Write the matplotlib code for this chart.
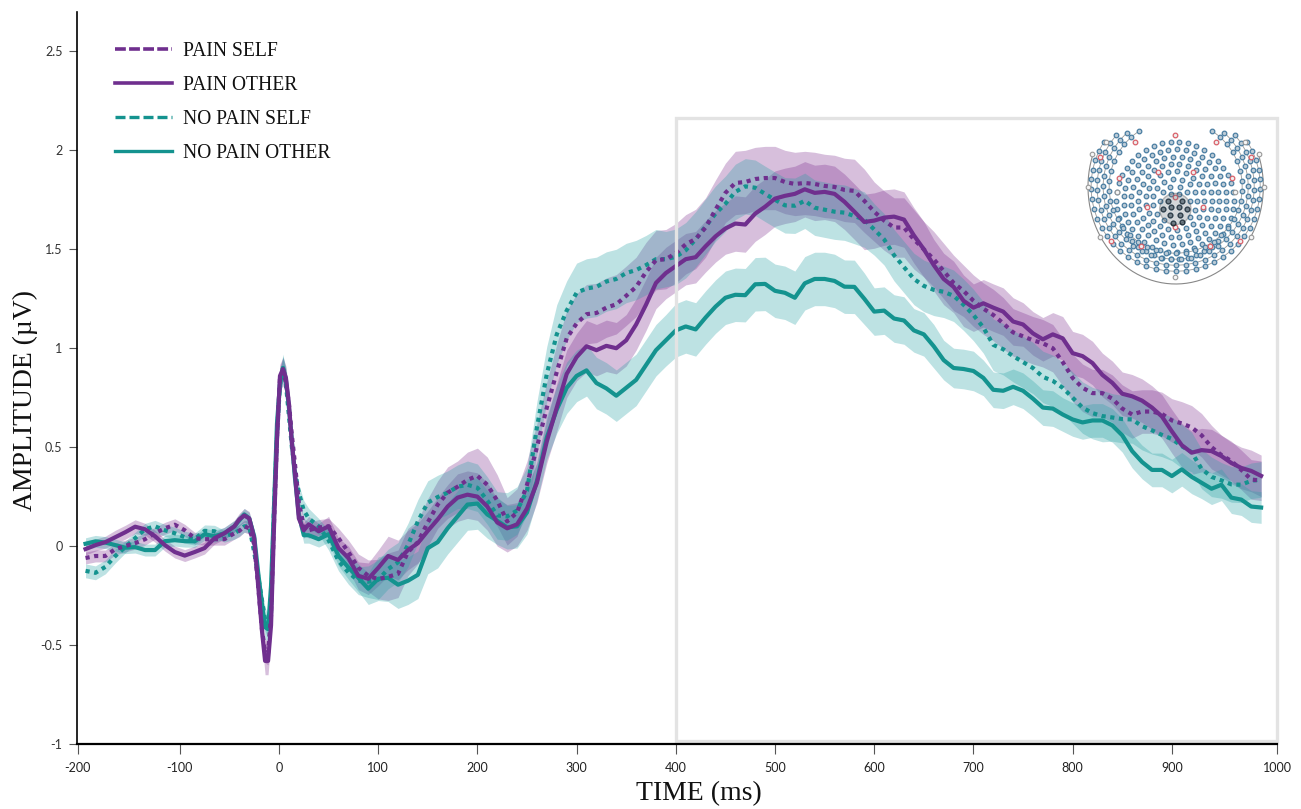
import numpy as np
import matplotlib
matplotlib.use("Agg")
import matplotlib.pyplot as plt
from matplotlib.lines import Line2D
from matplotlib.patches import Rectangle, Ellipse

TIME = [-195, -185, -175, -165, -155, -145, -135, -125, -115, -105, -95, -85, -75, -65, -55, -45,
        -40, -35, -30, -25, -21, -17, -14, -11, -8, -5, -2, 1, 4, 7, 10, 13, 16, 20, 25] + list(range(30, 1000, 10))

PAIN_OTHER = [-.015, .005, .02, .045, .07, .098, .085, .05, .005, -.03, -.048, -.03, -.01, .04, .065, .10,
    .135, .155, .14, .04, -.2, -.436, -.58, -.58, -.4, .1, .54, .86, .895, .85, .72, .52, .37, .14, .08,
    .11, .075, .10, -.01, -.06, -.15, -.165, -.11, -.05, -.07, -.02, .015, .077, .135, .20, .245, .26, .25, .20, .12, .09, .11, .19, .32, .53, .70, .87,
    .955, 1.01, .99, 1.012, 1.0, 1.04, 1.12, 1.22, 1.33, 1.38, 1.415, 1.45, 1.46, 1.515, 1.565, 1.605, 1.63, 1.625, 1.68, 1.715,
    1.756, 1.77, 1.78, 1.803, 1.785, 1.79, 1.78, 1.74, 1.69, 1.638, 1.645, 1.66, 1.665, 1.65, 1.57, 1.50, 1.42, 1.35, 1.31, 1.24,
    1.205, 1.227, 1.205, 1.185, 1.135, 1.12, 1.075, 1.045, 1.07, 1.05, .975, .96, .925, .865, .825, .77, .757, .735, .70, .655,
    .58, .51, .472, .485, .48, .455, .42, .395, .38, .355]

PAIN_SELF = [-.06, -.05, -.05, -.015, 0, .015, .035, .065, .09, .108, .08, .04, .035, .035, .035, .065,
    .077, .10, .09, .01, -.2, -.43, -.53, -.54, -.35, .12, .55, .85, .88, .83, .72, .56, .42, .22, .10,
    .08, .094, .10, .04, -.03, -.11, -.15, -.167, -.155, -.14, -.03, .02, .12, .21, .27, .30, .335, .355, .31, .23, .125, .17, .31, .50, .70, .88, 1.05,
    1.125, 1.172, 1.178, 1.205, 1.222, 1.265, 1.31, 1.385, 1.445, 1.45, 1.48, 1.525, 1.552, 1.61, 1.70, 1.785, 1.835, 1.84, 1.855, 1.86,
    1.86, 1.84, 1.83, 1.835, 1.83, 1.82, 1.815, 1.80, 1.795, 1.745, 1.69, 1.645, 1.61, 1.61, 1.55, 1.50, 1.45, 1.39, 1.33, 1.29,
    1.24, 1.20, 1.168, 1.126, 1.08, 1.06, 1.04, 1.025, 1.0, .93, .85, .80, .773, .773, .745, .695, .665, .68, .68, .668,
    .635, .62, .60, .56, .50, .46, .43, .385, .337, .33]

NOPAIN_OTHER = [.012, .024, .018, .005, -.008, -.005, -.02, -.02, .025, .03, .025, .024, .06, .05, .065, .10,
    .13, .16, .14, .05, -.133, -.30, -.41, -.42, -.20, .2, .62, .82, .90, .84, .70, .53, .35, .16, .055,
    .055, .035, .06, -.05, -.108, -.16, -.215, -.165, -.16, -.195, -.175, -.145, -.01, .02, .09, .15, .21, .215, .16, .128, .095, .10, .17, .33, .55, .69, .80,
    .86, .888, .824, .797, .76, .80, .84, .915, .99, 1.04, 1.09, 1.11, 1.095, 1.155, 1.21, 1.255, 1.27, 1.268, 1.323, 1.325,
    1.29, 1.28, 1.255, 1.328, 1.35, 1.35, 1.34, 1.311, 1.31, 1.25, 1.185, 1.19, 1.15, 1.14, 1.09, 1.07, 1.01, .94, .90, .895,
    .885, .85, .79, .785, .805, .785, .745, .70, .695, .665, .64, .625, .635, .635, .61, .56, .48, .425, .385, .385,
    .354, .388, .35, .32, .29, .31, .245, .235, .20, .195]

NOPAIN_SELF = [-.125, -.135, -.105, -.05, -.005, .04, .085, .10, .08, .065, .045, .035, .077, .075, .05, .065,
    .08, .10, .10, -.03, -.15, -.28, -.37, -.41, -.335, .2, .55, .82, .90, .82, .66, .50, .38, .27, .18,
    .14, .10, .03, -.075, -.133, -.175, -.18, -.17, -.116, -.082, .005, .125, .22, .248, .27, .30, .31, .295, .23, .155, .15, .18, .28, .60, .87, 1.07, 1.19,
    1.28, 1.302, 1.31, 1.337, 1.35, 1.38, 1.395, 1.42, 1.45, 1.45, 1.462, 1.495, 1.55, 1.615, 1.68, 1.73, 1.79, 1.818, 1.811, 1.78,
    1.75, 1.722, 1.72, 1.745, 1.71, 1.70, 1.69, 1.685, 1.668, 1.65, 1.60, 1.55, 1.47, 1.41, 1.35, 1.315, 1.295, 1.285, 1.265, 1.22,
    1.168, 1.105, 1.017, .995, .96, .93, .90, .855, .835, .80, .75, .70, .672, .657, .65, .642, .64, .606, .585, .562,
    .542, .505, .475, .39, .35, .332, .312, .31, .33, .337]

# half widths of the shaded bands
HW_PO = [.03, .03, .03, .035, .035, .035, .03, .03, .03, .03, .03, .03, .03, .03, .03, .03,
    .03, .035, .035, .04, .04, .05, .07, .07, .06, .05, .05, .06, .06, .06, .05, .05, .04, .04, .04,
    .04, .04, .05, .05, .06, .07, .08, .09, .10, .10, .10, .10, .10, .11, .11, .12, .12, .12, .12, .12, .12, .11, .11,
    .10, .11, .12, .12, .12, .13, .13, .13, .13, .13, .13, .13, .13, .13,
    .13, .13, .13, .13, .13, .13, .14, .14, .14, .14, .14, .14, .14, .14, .14, .14, .14, .14, .14, .14,
    .14, .14, .14, .14, .14, .14, .13, .13, .13, .13, .12, .12, .12, .12, .12, .11, .11, .11, .11, .11,
    .11, .11, .11, .11, .11, .11, .11, .11, .11, .11, .11, .11, .11, .11, .11, .105, .105, .105, .105, .105]
HW_PS = [.03, .03, .03, .03, .03, .03, .03, .03, .03, .03, .03, .03, .03, .03, .03, .03,
    .03, .03, .03, .035, .04, .05, .06, .06, .05, .05, .05, .06, .07, .06, .05, .05, .04, .04, .04,
    .04, .04, .04, .05, .06, .07, .08, .10, .12, .12, .12, .11, .12, .12, .13, .13, .14, .14, .14, .13, .12, .12, .12,
    .12, .13, .14, .14, .15, .15, .15, .15, .15, .15, .15, .15, .15, .15,
    .15, .15, .15, .15, .15, .15, .16, .16, .16, .16, .16, .16, .16, .16, .16, .16, .16, .16, .16, .16,
    .15, .15, .15, .15, .15, .14, .14, .14, .14, .13, .13, .13, .13, .13, .12, .12, .12, .12, .12, .12,
    .12, .12, .12, .12, .12, .12, .12, .11, .11, .11, .11, .11, .11, .11, .11, .10, .10, .10, .10, .10]
HW_NS = [.035, .035, .035, .035, .03, .03, .03, .03, .03, .03, .03, .03, .03, .03, .03, .03,
    .03, .03, .03, .035, .04, .05, .06, .06, .05, .05, .05, .06, .07, .06, .05, .05, .04, .04, .05,
    .05, .04, .05, .05, .06, .07, .08, .10, .10, .10, .11, .11, .11, .11, .11, .11, .12, .12, .12, .12, .12, .12, .12,
    .13, .14, .15, .15, .15, .15, .15, .15, .15, .15, .15, .15, .15, .14,
    .14, .14, .14, .14, .14, .14, .14, .14, .14, .14, .14, .14, .14, .14, .14, .14, .14, .14, .14, .14,
    .13, .13, .13, .13, .13, .13, .13, .13, .13, .13, .13, .13, .13, .13, .13, .13, .13, .13, .13, .13,
    .13, .13, .13, .13, .12, .12, .12, .12, .12, .11, .11, .11, .10, .10, .10, .09, .09, .09, .09, .09]
HW_NO = [.03, .03, .03, .03, .03, .03, .03, .03, .03, .03, .03, .03, .03, .03, .03, .03,
    .03, .03, .03, .03, .04, .05, .06, .06, .05, .05, .05, .06, .06, .06, .05, .05, .04, .04, .04,
    .04, .04, .04, .05, .06, .07, .08, .11, .12, .12, .12, .12, .13, .13, .13, .13, .13, .13, .12, .12, .11, .11, .11,
    .10, .11, .12, .13, .13, .13, .13, .13, .13, .13, .13, .13, .13, .13,
    .135, .135, .135, .135, .135, .135, .135, .135, .135, .135, .135, .135, .135, .135, .135, .135, .135, .135, .135, .13,
    .12, .12, .12, .12, .11, .11, .11, .10, .10, .10, .10, .09, .09, .09, .09, .09, .09, .09, .09, .085,
    .085, .085, .085, .085, .085, .085, .085, .085, .085, .085, .085, .085, .085, .08, .08, .08, .08, .08, .08, .08]

# the first and last ticks sit a little off the regular spacing in the picture
X_TICKS = [-203, -100, 0, 100, 200, 300, 400, 500, 600, 700, 800, 900, 1006]
X_LABELS = ['-200', '-100', '0', '100', '200', '300', '400', '500', '600', '700', '800', '900', '1000']
Y_TICKS = [-1, -0.5, 0, 0.5, 1, 1.5, 2, 2.5]
Y_LABELS = ['-1', '-0.5', '0', '0.5', '1', '1.5', '2', '2.5']

# sensors in the little head map, in the inset's own units
RED_X = [345, 225, 468, 120, 572, 177, 517, 295, 398, 345, 262, 430, 345, 153, 540, 242, 450]
RED_Y = [75, 95, 95, 140, 140, 203, 203, 187, 187, 262, 290, 290, 352, 393, 393, 408, 408]
WHITE_X = [97, 138, 555, 597, 83, 612, 170, 525, 120, 573, 345]
WHITE_Y = [132, 97, 97, 132, 230, 230, 245, 245, 380, 380, 500]
DOME_R = [22, 44, 66, 88, 110, 132, 154, 176]
ARC_R = [200, 218, 236, 254]
ARC_START = [33, 42, 49, 58]

PURPLE = '#6f2f8e'
TEAL = '#14938f'

plt.rcParams['font.family'] = 'Lato'
serif = 'Liberation Serif'

fig = plt.figure(figsize=(13.01, 8.09), dpi=100)
ax = fig.add_axes([77/1301, 1-744/809, 1200/1301, 732/809])
t = np.array(TIME)

for vals, hw, col in [(PAIN_SELF, HW_PS, '#7b2d8e'), (PAIN_OTHER, HW_PO, '#7b2d8e'),
                      (NOPAIN_SELF, HW_NS, '#25a0a4'), (NOPAIN_OTHER, HW_NO, '#25a0a4')]:
    v = np.array(vals)
    h = np.array(hw)
    ax.fill_between(t, v-h, v+h, color=col, alpha=0.3, lw=0)

ax.plot(t, NOPAIN_OTHER, color=TEAL, lw=3.0, zorder=3)
ax.plot(t, NOPAIN_SELF, color=TEAL, lw=3.0, ls=(0, (1, 1.1)), zorder=3)
ax.plot(t, PAIN_SELF, color=PURPLE, lw=3.0, ls=(0, (1, 1.1)), zorder=4)
ax.plot(t, PAIN_OTHER, color=PURPLE, lw=3.0, zorder=4)

ax.add_patch(Rectangle((400, -0.985), 606, 3.15, fill=False, ec='#e3e3e3', lw=2.4, zorder=5, clip_on=False))

ax.set_xlim(-203.6, 1006)
ax.set_ylim(-1, 2.699)
ax.set_xticks(X_TICKS)
ax.set_xticklabels(X_LABELS)
ax.set_yticks(Y_TICKS)
ax.set_yticklabels(Y_LABELS)
ax.spines['top'].set_visible(False)
ax.spines['right'].set_visible(False)
ax.spines['left'].set_linewidth(1.2)
ax.spines['bottom'].set_linewidth(1.6)
ax.spines['bottom'].set_zorder(6)
ax.tick_params(axis='y', length=5.5, width=0.8, color='#555555', labelsize=9, labelcolor='#333333', pad=5)
ax.tick_params(axis='x', length=7, width=0.8, color='#555555', labelsize=9, labelcolor='#222222', pad=6)

handles = [Line2D([], [], color=PURPLE, lw=2.6, ls=(0, (3, 0.9))),
           Line2D([], [], color=PURPLE, lw=2.6),
           Line2D([], [], color=TEAL, lw=2.4, ls=(0, (3, 1.2))),
           Line2D([], [], color=TEAL, lw=2.4)]
ax.legend(handles, ['PAIN SELF', 'PAIN OTHER', 'NO PAIN SELF', 'NO PAIN OTHER'],
          loc='upper left', bbox_to_anchor=(38/1200, 1-30/732), frameon=False,
          prop={'family': serif, 'size': 14.1}, labelspacing=0.76, handlelength=2.9,
          handletextpad=0.56, borderpad=0, borderaxespad=0, labelcolor='#111111')

fig.text(699/1301, 1-794/809, 'TIME (ms)', family=serif, fontsize=20, ha='center', va='center', color='#111111')
fig.text(25/1301, 1-401/809, 'AMPLITUDE (\u00b5V)', family=serif, fontsize=19.9, rotation=90,
         ha='center', va='center', color='#111111')

# head map inset
head = fig.add_axes([1060/1301, 1-300/809, 230/1301, 190/809])
head.set_xlim(0, 690)
head.set_ylim(570, 0)
head.axis('off')
head.patch.set_alpha(0)

b = np.radians(np.linspace(-20, 200, 200))
head.plot(347+263*np.cos(b), 230+292*np.sin(b), color='#888888', lw=0.8, zorder=1)

sx, sy = [], []
for r in DOME_R:
    n = max(6, int(2*np.pi*r/26))
    ang = np.linspace(0, 2*np.pi, n, endpoint=False)
    sx.extend(345+r*np.cos(ang))
    sy.extend(272+r*np.sin(ang))
for r, st in zip(ARC_R, ARC_START):
    n = int(np.radians(360-2*st)*r/29)
    ang = np.radians(np.linspace(st, 360-st, n))
    ax_ = 347-r*np.sin(ang)
    ay_ = 230-r*np.cos(ang)
    head.plot(ax_, ay_, color='#999999', lw=0.6, zorder=1)
    sx.extend(ax_)
    sy.extend(ay_)
sx = np.array(sx)
sy = np.array(sy)
head.scatter(sx, sy, s=11, facecolor='#bccbd6', edgecolor='#4a7ea2', lw=0.9, zorder=2)
head.scatter(RED_X, RED_Y, s=11, facecolor='#eeeeee', edgecolor='#d9616a', lw=0.9, zorder=3)
head.scatter(WHITE_X, WHITE_Y, s=11, facecolor='#f6f6f6', edgecolor='#999999', lw=0.8, zorder=3)
near = np.hypot(sx-345, sy-298) < 45
head.scatter(sx[near], sy[near], s=11, facecolor='#7d8c97', edgecolor='#27333c', lw=0.9, zorder=4)
head.add_patch(Ellipse((346, 297), 94, 94, fc='#55606a', ec='#111111', alpha=0.25, lw=1.0, zorder=4))

fig.savefig('out.png', dpi=100)
